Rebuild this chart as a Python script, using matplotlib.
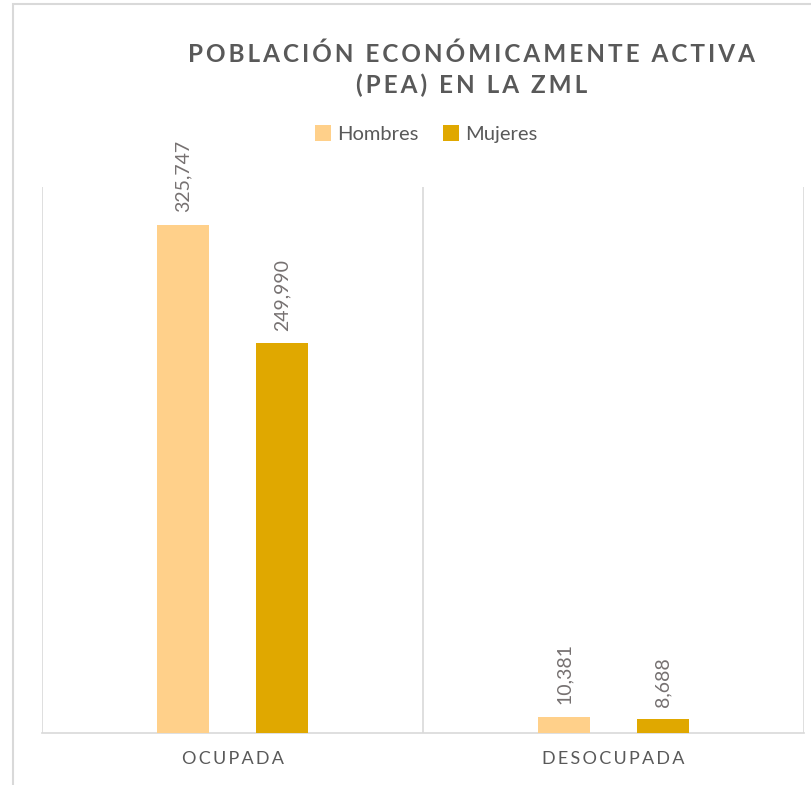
import matplotlib
matplotlib.use("Agg")
from matplotlib import pyplot as plt
from matplotlib.patches import Rectangle

categorias = ["OCUPADA", "DESOCUPADA"]
hombres = [325747, 10381]
mujeres = [249990, 8688]
series = ["Hombres", "Mujeres"]
colores = ["#FFD08A", "#E0A800"]
titulo = "POBLACIÓN ECONÓMICAMENTE ACTIVA\n(PEA) EN LA ZML"

plt.rcParams['font.family'] = ['Lato', 'DejaVu Sans']
gris = "#595959"
linea = "#D9D9D9"


def espaciado(s, sep="\u2009"):
    # letter spacing like the Excel style
    return "\n".join(sep.join(linea_) for linea_ in s.split("\n"))


fig = plt.figure(figsize=(8.11, 7.85), dpi=100)
# outer chart border (cut off at right/bottom)
fig.patches.append(Rectangle((13 / 811, -0.1), 1.2, 1 - 4 / 785 + 0.1, transform=fig.transFigure,
                             fill=False, edgecolor=linea, linewidth=1.5))

ax = fig.add_axes([42 / 811, 52 / 785, (804 - 42) / 811, (733 - 187) / 785])
x = list(range(len(categorias)))
ancho = 0.136
desp = 0.129
for i, (nombre, valores) in enumerate(zip(series, [hombres, mujeres])):
    pos = [p + (desp if i else -desp) for p in x]
    bars = ax.bar(pos, valores, width=ancho, color=colores[i], label=nombre, zorder=3)
    for b, v in zip(bars, valores):
        ax.annotate(f"{v:,}", (b.get_x() + b.get_width() / 2, v), xytext=(0, 9),
                    textcoords="offset points", rotation=90, ha="center", va="bottom",
                    color="#767171", fontsize=14)

ax.set_xlim(-0.5, 1.5)
ax.set_ylim(0, 350000)
ax.set_yticks([])
ax.set_xticks([-0.5, 0.5, 1.5], minor=False)
ax.set_xticklabels([])
ax.tick_params(axis="x", length=0)
ax.grid(axis="x", color=linea, linewidth=1.2, zorder=0)
for s in ["top", "right", "left"]:
    ax.spines[s].set_visible(False)
ax.spines["bottom"].set_color(linea)
ax.spines["bottom"].set_linewidth(1.2)
for p, c in zip(x, categorias):
    ax.text(p, -0.048, espaciado(c), transform=ax.get_xaxis_transform(), ha="center", va="center",
            color=gris, fontsize=13)

fig.text(472 / 811, 1 - 70 / 785, espaciado(titulo), ha="center", va="center", fontsize=17.5,
         fontweight="bold", color=gris, linespacing=1.4)

fig.legend(loc="center", bbox_to_anchor=(426 / 811, 1 - 134 / 785), ncol=2, frameon=False,
           fontsize=14.5, handlelength=0.8, handleheight=0.8, handletextpad=0.3, columnspacing=1.2,
           labelcolor=gris)

plt.savefig("out.png", dpi=100)
